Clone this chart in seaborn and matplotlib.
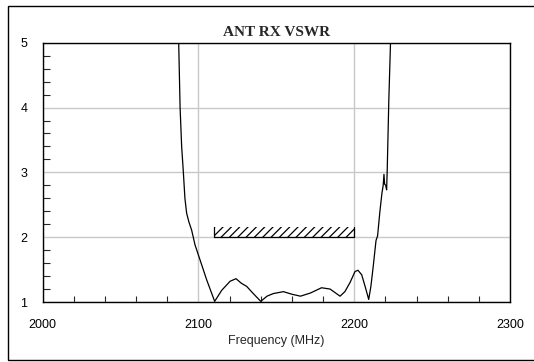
import matplotlib
matplotlib.use('Agg')
import matplotlib.pyplot as plt
from matplotlib.patches import Rectangle
from matplotlib.ticker import MultipleLocator
import seaborn as sns

freq_mhz = [2087.3, 2088.2, 2089.2, 2090.3, 2091.3, 2092.4, 2093.8, 2095.6, 2097.8, 2101.0,
            2105.3, 2110.4, 2114.9, 2120.3, 2124.1, 2127.5, 2131.0, 2135.2, 2140.0, 2144.0,
            2148.0, 2154.5, 2160.0, 2165.5, 2172.0, 2179.0, 2184.5, 2188.0, 2190.9, 2194.0,
            2197.3, 2200.5, 2202.4, 2204.8, 2207.0, 2209.3, 2210.7, 2212.2, 2214.0, 2215.0,
            2216.5, 2217.8, 2218.6, 2219.1, 2219.5, 2220.2, 2220.8, 2221.2, 2222.2, 2223.3]
vswr = [5.0, 4.0, 3.4, 3.0, 2.6, 2.37, 2.24, 2.11, 1.88, 1.65,
        1.34, 1.01, 1.18, 1.32, 1.36, 1.29, 1.24, 1.13, 1.01, 1.09,
        1.13, 1.16, 1.12, 1.09, 1.14, 1.22, 1.20, 1.14, 1.09, 1.16,
        1.30, 1.47, 1.49, 1.42, 1.24, 1.04, 1.24, 1.55, 1.95, 2.02,
        2.40, 2.68, 2.80, 2.97, 2.82, 2.80, 2.73, 3.05, 4.1, 5.0]

spec_band = [2110, 2200]   # MHz, spec window
spec_limit = 2.0           # max VSWR
x_ticks = [2000, 2100, 2200, 2300]
y_ticks = [1, 2, 3, 4, 5]

sns.set_style('white')
plt.rcParams['font.family'] = ['Liberation Sans', 'DejaVu Sans']
plt.rcParams['hatch.linewidth'] = 0.9

fig = plt.figure(figsize=(5.34, 3.62), dpi=100)
ax = fig.add_axes([0.080, 0.1657, 0.875, 0.7163])

# outer frame (right edge falls off the picture)
fig.patches.append(Rectangle((8 / 534, 1 - 360 / 362), 1.2, (360 - 5.5) / 362,
                             transform=fig.transFigure, fill=False,
                             edgecolor='black', linewidth=1.0))

sns.lineplot(x=freq_mhz, y=vswr, sort=False, estimator=None,
             color='black', linewidth=0.9, ax=ax, zorder=3)

# hatched spec limit
lo, hi = spec_band
ax.fill_between(spec_band, spec_limit, spec_limit + 0.16, facecolor='none',
                edgecolor='black', hatch='////', linewidth=0, zorder=2)
ax.plot([lo, lo, hi, hi], [spec_limit + 0.16, spec_limit, spec_limit, spec_limit + 0.16],
        color='black', linewidth=0.9, zorder=3)

ax.set_xlim(x_ticks[0], x_ticks[-1])
ax.set_ylim(y_ticks[0], y_ticks[-1])
ax.set_xticks(x_ticks)
ax.set_yticks(y_ticks)
ax.xaxis.set_minor_locator(MultipleLocator(20))
ax.yaxis.set_minor_locator(MultipleLocator(0.2))
ax.tick_params(which='major', length=0, labelsize=9, colors='black')
ax.tick_params(axis='x', which='major', pad=12)
ax.tick_params(axis='y', which='major', pad=11)
ax.tick_params(axis='x', which='minor', direction='in', length=4.3, width=0.8, bottom=True)
ax.tick_params(axis='y', which='minor', direction='in', length=5, width=0.8, left=True)

ax.grid(True, which='major', color='#c8c8c8', linewidth=1.0)
ax.set_axisbelow(True)
for s in ax.spines.values():
    s.set_color('black')
    s.set_linewidth(1.0)

ax.set_xlabel('Frequency (MHz)', fontsize=9, labelpad=3)
ax.set_ylabel('')
ax.set_title('ANT RX VSWR', fontsize=11, fontweight='bold',
             family=['Liberation Serif', 'DejaVu Serif'], pad=5)

fig.savefig('out.png', dpi=100)
